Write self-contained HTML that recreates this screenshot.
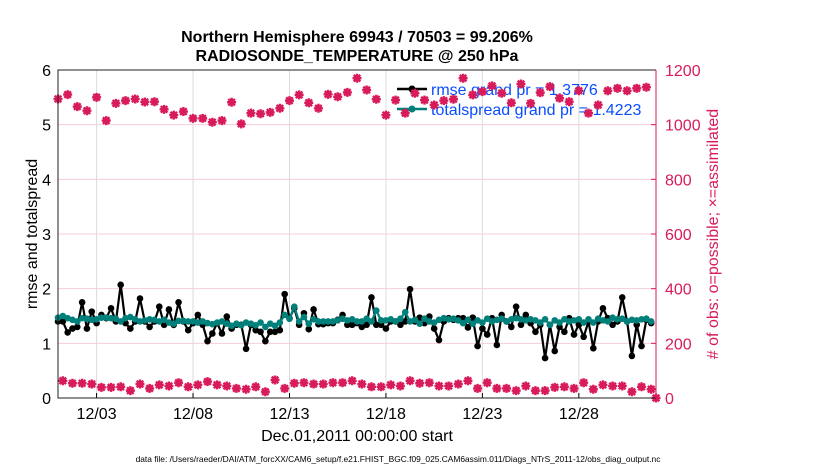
<!DOCTYPE html>
<html><head><meta charset="utf-8"><style>
body{margin:0;background:#fff;}
svg{display:block;font-family:"Liberation Sans",sans-serif;}
</style></head><body>
<svg id="chart" width="830" height="470" viewBox="0 0 830 470" xmlns="http://www.w3.org/2000/svg">
<g id="grid"></g>
<g id="legend">
 <line x1="397" y1="89" x2="427" y2="89" stroke="#000" stroke-width="2.5"/>
 <circle cx="412" cy="89" r="3.5" fill="#000"/>
 <text x="431" y="95" font-size="16" fill="#0a4dff">rmse grand pr = 1.3776</text>
 <line x1="397" y1="109" x2="427" y2="109" stroke="#00807a" stroke-width="2.5"/>
 <circle cx="412" cy="109" r="3.5" fill="#00807a"/>
 <text x="431" y="115" font-size="16" fill="#0a4dff">totalspread grand pr = 1.4223</text>
</g>
<g id="marks"></g>
<g id="axes"></g>
<text x="357" y="42" font-size="16" font-weight="bold" text-anchor="middle">Northern Hemisphere 69943 / 70503 = 99.206%</text>
<text x="357" y="61" font-size="16" font-weight="bold" text-anchor="middle">RADIOSONDE_TEMPERATURE @ 250 hPa</text>
<text transform="translate(37,234) rotate(-90)" font-size="16" text-anchor="middle">rmse and totalspread</text>
<text transform="translate(718,234) rotate(-90)" font-size="16" text-anchor="middle" fill="#d81b5a"># of obs: o=possible; ×=assimilated</text>
<text x="357" y="441" font-size="16" text-anchor="middle">Dec.01,2011 00:00:00 start</text>
<text x="398" y="462" font-size="8.4" text-anchor="middle">data file: /Users/raeder/DAI/ATM_forcXX/CAM6_setup/f.e21.FHIST_BGC.f09_025.CAM6assim.011/Diags_NTrS_2011-12/obs_diag_output.nc</text>
</svg>
<script>
const xTickDays=[2,7,12,17,22,27];
const xTickLabels=["12/03","12/08","12/13","12/18","12/23","12/28"];
const leftTicks=[0,1,2,3,4,5,6];
const rightTicks=[0,200,400,600,800,1000,1200];
const rmse=[1.40,1.40,1.20,1.27,1.30,1.75,1.27,1.58,1.37,1.52,1.46,1.64,1.40,2.07,1.37,1.27,1.40,1.82,1.40,1.30,1.40,1.67,1.34,1.62,1.34,1.75,1.40,1.24,1.37,1.52,1.34,1.04,1.18,1.37,1.18,1.49,1.27,1.34,1.34,0.90,1.34,1.24,
1.21,1.04,1.21,1.21,1.24,1.90,1.46,1.64,1.34,1.55,1.26,1.62,1.35,1.35,1.37,1.37,1.43,1.52,1.34,1.34,1.37,1.30,1.34,1.84,1.34,1.34,1.27,1.40,1.40,1.34,1.40,1.99,1.40,1.47,1.37,1.49,1.27,1.06,1.40,1.46,1.43,
1.46,1.46,1.29,1.47,0.95,1.27,1.16,1.46,0.97,1.52,1.40,1.30,1.67,1.34,1.52,1.37,1.21,1.34,0.73,1.34,0.86,1.30,1.21,1.46,1.16,1.34,1.12,1.40,0.91,1.40,1.64,1.46,1.34,1.40,1.84,1.40,0.77,1.34,0.95,1.43,1.37];
const spread=[1.47,1.50,1.46,1.43,1.40,1.46,1.45,1.43,1.44,1.47,1.47,1.46,1.45,1.40,1.46,1.48,1.44,1.40,1.42,1.44,1.43,1.40,1.43,1.38,1.36,1.41,1.41,1.40,1.40,1.38,1.40,1.37,1.35,1.38,1.40,1.36,1.32,1.36,1.33,1.38,1.36,1.33,
1.38,1.30,1.36,1.32,1.38,1.52,1.45,1.67,1.40,1.48,1.36,1.44,1.40,1.40,1.40,1.40,1.42,1.45,1.42,1.44,1.40,1.40,1.45,1.40,1.60,1.42,1.42,1.44,1.40,1.45,1.57,1.40,1.43,1.36,1.45,1.40,1.38,1.43,1.46,1.44,1.45,
1.42,1.37,1.43,1.36,1.42,1.38,1.45,1.40,1.43,1.45,1.40,1.44,1.46,1.44,1.42,1.44,1.42,1.38,1.44,1.34,1.42,1.38,1.44,1.40,1.42,1.44,1.38,1.44,1.38,1.45,1.42,1.40,1.47,1.44,1.45,1.40,1.43,1.42,1.44,1.45,1.40];
const obsMain=[1094,1110,1066,1051,1100,1015,1078,1088,1094,1083,1084,1056,1035,1048,1023,1023,1009,1015,1082,1003,1042,1040,1045,1060,1088,1109,1080,1060,1111,1102,1118,1170,1127,
1093,1035,1090,1042,1115,1090,1072,1088,1093,1170,1109,1121,1142,1115,1080,1149,1078,1117,1139,1097,1084,1124,1042,1072,1124,1133,1124,1133,1137];
const obsOff=[63,54,54,51,39,39,41,27,51,35,48,44,56,41,48,60,48,44,35,32,41,23,66,35,54,56,51,51,56,56,63,51,41,
41,48,44,63,54,56,44,44,51,63,35,56,35,35,27,44,27,27,39,41,35,56,32,48,44,44,23,41,32,0];
const obsPossible=[];obsMain.forEach((v,i)=>{obsPossible.push(v);if(i<obsOff.length)obsPossible.push(obsOff[i]);});
for(let i=obsMain.length;i<obsOff.length;i++)obsPossible.push(obsOff[i]);
const obsAssim=obsPossible.slice();

const L=58,R=656,T=70,B=398,PINK="#d81b5a",NS="http://www.w3.org/2000/svg";
const xS=d=>L+(R-L)*d/31;
const yL=v=>B-(B-T)*v/6;
const yR=c=>B-(B-T)*c/1200;
const tOf=i=>i*0.25;
function mk(tag,attrs,parent){const e=document.createElementNS(NS,tag);for(const k in attrs)e.setAttribute(k,attrs[k]);parent.appendChild(e);return e;}
const grid=document.getElementById('grid'),marks=document.getElementById('marks'),axes=document.getElementById('axes');
rightTicks.forEach(c=>{const g=mk('line',{x1:L,x2:R,y1:yR(c),y2:yR(c),stroke:'#f4cddb','stroke-width':1},grid);

});
xTickDays.forEach((d,i)=>{const g=mk('line',{x1:xS(d),x2:xS(d),y1:T,y2:B,stroke:'#dcdcdc','stroke-width':1},grid);


const t=mk('text',{x:xS(d),y:419,'font-size':16,'text-anchor':'middle'},axes);t.textContent=xTickLabels[i];


const tk=mk('line',{x1:xS(d),x2:xS(d),y1:B,y2:B-5,stroke:'#000'},axes);

});
leftTicks.forEach(v=>{const t=mk('text',{x:51,y:yL(v)+6,'font-size':16,'text-anchor':'end'},axes);t.textContent=v;

});
rightTicks.forEach(c=>{const t=mk('text',{x:665,y:yR(c)+6,'font-size':16,fill:PINK},axes);t.textContent=c;


const tk=mk('line',{x1:R,x2:R-5,y1:yR(c),y2:yR(c),stroke:PINK},axes);

});
const fr=mk('path',{d:`M${R},${T}H${L}V${B}H${R}`,fill:'none',stroke:'#222','stroke-width':1},axes);


const ra=mk('line',{x1:R,x2:R,y1:T,y2:B,stroke:PINK,'stroke-width':1},axes);



function series(vals,color,name){
 const pts=vals.map((v,i)=>xS(tOf(i)).toFixed(1)+','+yL(v).toFixed(1)).join(' ');
 const pl=mk('polyline',{points:pts,fill:'none',stroke:color,'stroke-width':2.2},marks);
 
 
 vals.forEach((v,i)=>{const c=mk('circle',{cx:xS(tOf(i)),cy:yL(v),r:3.3,fill:color},marks);
 
 });
}
series(rmse,'#000','rmse');
series(spread,'#00807a','spread');
obsAssim.forEach((c,i)=>{const x=xS(tOf(i)),y=yR(c);
 const g=mk('path',{d:`M${x-4.5},${y}H${x+4.5}M${x},${y-4.5}V${y+4.5}M${x-3.3},${y-3.3}L${x+3.3},${y+3.3}M${x-3.3},${y+3.3}L${x+3.3},${y-3.3}`,stroke:PINK,'stroke-width':2.4},marks);
 
 });
obsPossible.forEach((c,i)=>{const cc=mk('circle',{cx:xS(tOf(i)),cy:yR(c),r:2.6,fill:'none',stroke:PINK,'stroke-width':1.5},marks);
 
 });
</script>
</body></html>
